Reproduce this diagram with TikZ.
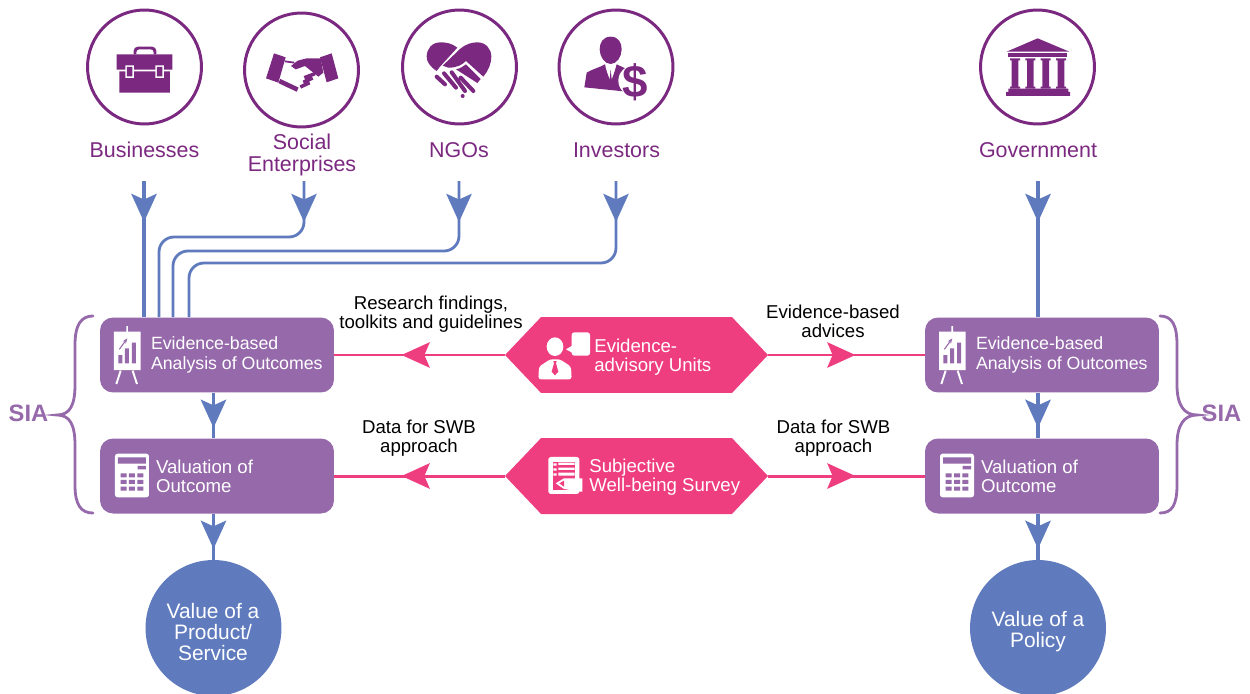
\documentclass[tikz,border=0pt]{standalone}
\usepackage{fontspec}
\setmainfont{Liberation Sans}
\usetikzlibrary{positioning,calc,arrows.meta,shapes.symbols,decorations.markings}

\definecolor{iconpurple}{HTML}{7B2880}
\definecolor{flowblue}{HTML}{5F7BBE}
\definecolor{boxpurple}{HTML}{9569AA}
\definecolor{hexpink}{HTML}{EF3E7F}

\begin{document}
\begin{tikzpicture}[
    x=0.02cm, y=-0.02cm,
    actor/.style={circle, draw=iconpurple, line width=1.7pt, minimum size=2.28cm, inner sep=0pt},
    actorlabel/.style={align=center, text=iconpurple, font=\fontsize{12.2}{12.6}\selectfont},
    stage/.style={rectangle, fill=boxpurple, rounded corners=0.26cm, minimum width=4.68cm, minimum height=1.5cm, inner sep=0pt},
    stagetext/.style={align=left, text=white, inner sep=0pt, font=\fontsize{10.1}{11}\selectfont},
    valuetext/.style={align=left, text=white, inner sep=0pt, font=\fontsize{10.6}{11}\selectfont},
    unit/.style={signal, signal to=west and east, signal pointer angle=93, fill=hexpink, minimum width=5.26cm, minimum height=1.52cm, inner sep=0pt},
    note/.style={align=center, inner sep=0pt, font=\fontsize{10.6}{10.8}\selectfont},
    result/.style={circle, fill=flowblue, minimum size=2.72cm, inner sep=0pt},
    resulttext/.style={align=center, text=white, inner sep=0pt, font=\fontsize{11.9}{12}\selectfont},
    sialabel/.style={text=boxpurple, inner sep=0pt, font=\fontsize{13.5}{14}\selectfont\bfseries},
    brace/.style={draw=boxpurple, line width=1.6pt, line cap=round},
    flow/.style={draw=flowblue, line width=1.9pt},
    lane/.style={draw=flowblue, line width=1.6pt, rounded corners=0.3cm},
    bluehead/.style={postaction={decorate}, decoration={markings, mark=at position #1 with {\arrow{Stealth[length=16pt, width=14.4pt, inset=3.2pt, color=flowblue]}}}},
    link/.style={draw=hexpink, line width=1.7pt},
    pinkhead/.style={postaction={decorate}, decoration={markings, mark=at position #1 with {\arrow{Stealth[length=16pt, width=14.4pt, inset=3pt, color=hexpink]}}}},
    pics/boardicon/.style={code={
        \begin{scope}[x=0.00667cm, y=-0.00667cm]
        \fill[white] (342,95) rectangle (422,210) (379,78) rectangle (384,95);
        \draw[white, line width=1.1pt] (362,212) -- (349,252) (398,212) -- (411,252);
        \fill[boxpurple] (355,165) rectangle (367,190) (375,145) rectangle (387,190) (396,128) rectangle (408,190);
        \draw[boxpurple, line width=0.6pt, -{Stealth[length=3pt]}] (358,148) -- (382,115);
        \end{scope}
    }},
    pics/calcicon/.style={code={
        \begin{scope}[x=0.00667cm, y=-0.00667cm]
        \fill[white, rounded corners=1.5pt] (345,461) rectangle (447,592);
        \fill[boxpurple] (354,472) rectangle (438,491) (413,498) rectangle (438,508);
        \fill[boxpurple] (362,520) rectangle (380,532) (387,520) rectangle (405,532) (412,520) rectangle (430,532);
        \fill[boxpurple] (362,540) rectangle (380,552) (387,540) rectangle (405,552) (412,540) rectangle (430,552);
        \fill[boxpurple] (362,560) rectangle (380,572) (387,560) rectangle (405,572) (412,560) rectangle (430,572);
        \end{scope}
    }}
]
\useasboundingbox (0,0) rectangle (1250,693);

% Actor circles on top
\node[actor] (biz) at (144.5,67) {};
\node[actor] (soc) at (301.5,70) {};
\node[actor] (ngo) at (459.5,67) {};
\node[actor] (inv) at (616,67) {};
\node[actor] (gov) at (1037.5,67) {};

\node[actorlabel] (bizlabel) at (144.5,150) {Businesses};
\node[actorlabel] (soclabel) at (302,155) {Social\\Enterprises};
\node[actorlabel] (ngolabel) at (459,150) {NGOs};
\node[actorlabel] (invlabel) at (616.5,150) {Investors};
\node[actorlabel] (govlabel) at (1038,150) {Government};

% Stage boxes
\node[stage] (analysisL) at (217,355) {};
\node[stage] (valueL) at (217,476) {};
\node[stage] (analysisR) at (1042,355) {};
\node[stage] (valueR) at (1042,476) {};

\node[stagetext, right=1.02cm of analysisL.west] (analysisLtext) {Evidence-based\\Analysis of Outcomes};
\node[valuetext, right=1.12cm of valueL.west] (valueLtext) {Valuation of\\Outcome};
\node[stagetext, right=1.02cm of analysisR.west] (analysisRtext) {Evidence-based\\Analysis of Outcomes};
\node[valuetext, right=1.12cm of valueR.west] (valueRtext) {Valuation of\\Outcome};

% Middle units
\node[unit] (advisory) at (636.5,355) {};
\node[unit] (survey) at (636.5,476) {};
\node[valuetext, anchor=west] (advisorytext) at (594,357.5) {Evidence-\\advisory Units};
\node[valuetext, anchor=west] (surveytext) at (589,477.5) {Subjective\\Well-being Survey};

% Result circles
\node[result] (product) at (213.5,628) {};
\node[result] (policy) at (1038,628) {};
\node[resulttext] (producttext) at (213,632) {Value of a\\Product/\\Service};
\node[resulttext] (policytext) at (1038,632) {Value of a\\Policy};

% Free ends of the arrows coming down
\coordinate (bizout) at (144,181);
\coordinate (socout) at (304,181);
\coordinate (ngoout) at (459,181);
\coordinate (invout) at (616,181);
\coordinate (govout) at (1038,181);
\coordinate (soclane) at (159,237);
\coordinate (ngolane) at (173,251);
\coordinate (invlane) at (189,263);

\draw[flow, bluehead=0.82cm] (bizout) -- (bizout |- analysisL.north);
\draw[lane, bluehead=0.82cm] (socout) |- (soclane) -- (soclane |- analysisL.north);
\draw[lane, bluehead=0.82cm] (ngoout) |- (ngolane) -- (ngolane |- analysisL.north);
\draw[lane, bluehead=0.82cm] (invout) |- (invlane) -- (invlane |- analysisL.north);
\draw[flow, bluehead=0.82cm] (govout) -- (govout |- analysisR.north);

% Down the two columns
\draw[flow, bluehead=0.7cm] (product |- analysisL.south) -- (product |- valueL.north);
\draw[flow, bluehead=0.7cm] (product |- valueL.south) -- (product.north);
\draw[flow, bluehead=0.7cm] (policy |- analysisR.south) -- (policy |- valueR.north);
\draw[flow, bluehead=0.7cm] (policy |- valueR.south) -- (policy.north);

% Pink links
\draw[link, pinkhead=2.06cm] (advisory.west) -- (analysisL.east);
\draw[link, pinkhead=1.74cm] (advisory.east) -- (analysisR.west);
\draw[link, pinkhead=2.06cm] (survey.west) -- (valueL.east);
\draw[link, pinkhead=1.74cm] (survey.east) -- (valueR.west);

\node[note] (findings) at (431,314) {Research findings,\\toolkits and guidelines};
\node[note] (advices) at (833,321) {Evidence-based\\advices};
\node[note] (dataL) at (419,438.5) {Data for SWB\\approach};
\node[note] (dataR) at (833.5,438.5) {Data for SWB\\approach};

% Braces and SIA
\draw[brace] (93,316) .. controls (81,316) and (75,325) .. (75,345) -- (75,385) .. controls (75,405) and (70,415) .. (57,415) .. controls (70,415) and (75,425) .. (75,445) -- (75,485) .. controls (75,505) and (81,513) .. (93,513);
\draw[brace] (1160,316) .. controls (1172,316) and (1177,325) .. (1177,345) -- (1177,385) .. controls (1177,405) and (1184,415) .. (1197,415) .. controls (1184,415) and (1177,425) .. (1177,445) -- (1177,485) .. controls (1177,505) and (1172,513) .. (1160,513);
\node[sialabel] (siaL) at (28.5,413.5) {SIA};
\node[sialabel] (siaR) at (1221.5,413.5) {SIA};

% Icons in the boxes
\pic at (0,300) {boardicon};
\pic at (825,300) {boardicon};
\pic at (0,300) {calcicon};
\pic at (825,300) {calcicon};

% Briefcase
\begin{scope}[shift={(70,0)}, x=0.00667cm, y=-0.00667cm]
\draw[iconpurple, line width=1.7pt, rounded corners=2pt] (195,163) -- (195,144) -- (255,144) -- (255,163);
\fill[iconpurple] (140,163) rectangle (307,209) (148,214) rectangle (300,278);
\fill[white] (166,196) rectangle (192,234) (256,196) rectangle (282,234);
\fill[iconpurple] (171,201) rectangle (187,229) (261,201) rectangle (277,229);
\end{scope}

% Handshake
\begin{scope}[shift={(255,40)}, x=0.00667cm, y=-0.00667cm]
\fill[iconpurple] (57,40) -- (92,52) -- (70,128) -- (33,115) -- cycle;
\fill[iconpurple] (195,52) -- (230,40) -- (250,115) -- (215,127) -- cycle;
\fill[iconpurple] (197,55) -- (155,55) -- (128,62) -- (108,78) -- (122,88) -- (150,78) -- (190,110) -- (205,98) -- cycle;
\draw[iconpurple, line width=1pt] (90,64) -- (118,68);
\draw[iconpurple, line width=2pt] (148,113) -- (180,101) (145,127) -- (173,114) (136,141) -- (164,128);
\draw[iconpurple, line width=2.6pt] (73,123) -- (128,149);
\end{scope}

% Heart of hands
\begin{scope}[shift={(420,35)}, x=0.00667cm, y=-0.00667cm]
\fill[iconpurple] (112,38) .. controls (95,25) and (80,22) .. (62,22) .. controls (35,22) and (20,42) .. (20,65) .. controls (20,80) and (30,95) .. (50,108) -- (60,95) -- cycle;
\fill[iconpurple] (68,92) -- (120,42) .. controls (138,27) and (155,22) .. (172,22) .. controls (198,22) and (214,42) .. (214,65) .. controls (214,85) and (205,108) .. (190,125) -- (138,78) .. controls (125,90) and (112,98) .. (85,98) -- cycle;
\fill[iconpurple] (108,103) .. controls (122,100) and (130,94) .. (138,88) -- (182,132) -- (172,144) -- cycle;
\draw[iconpurple, line width=2.3pt, line cap=round] (50,125) -- (75,148) (72,115) -- (108,158) (95,112) -- (135,168) (122,128) -- (160,168);
\fill[iconpurple] (128,183) circle (6);
\end{scope}

% Investor
\begin{scope}[shift={(575,30)}, x=0.00667cm, y=-0.00667cm]
\fill[iconpurple] (107,20) .. controls (130,20) and (140,38) .. (140,58) .. controls (140,80) and (125,102) .. (107,102) .. controls (89,102) and (74,80) .. (74,58) .. controls (74,38) and (84,20) .. (107,20) -- cycle;
\fill[iconpurple] (28,172) -- (35,128) .. controls (50,118) and (75,112) .. (90,103) -- (104,148) -- (107,118) -- (110,148) -- (125,103) .. controls (135,108) and (145,112) .. (155,117) -- (155,185) -- cycle;
\fill[white] (91,108) -- (100,117) -- (98,122) -- (104,148) -- (96,125) -- cycle (123,108) -- (114,117) -- (116,122) -- (110,148) -- (118,125) -- cycle;
\node[circle, fill=white, inner sep=0pt, minimum size=0.6cm] (dollarback) at (175,152) {};
\node[text=iconpurple, inner sep=0pt, font=\fontsize{26}{26}\selectfont\bfseries] (dollar) at (180,157) {\$};
\end{scope}

% Government building
\begin{scope}[shift={(960,0)}, x=0.00667cm, y=-0.00667cm]
\fill[iconpurple] (140,155) -- (233,115) -- (328,155) -- cycle;
\fill[iconpurple] (143,159) rectangle (322,172);
\fill[iconpurple] (150,175) rectangle (180,181) (155,181) rectangle (175,262) (150,260) rectangle (180,266);
\fill[iconpurple] (196,175) rectangle (226,181) (201,181) rectangle (221,262) (196,260) rectangle (226,266);
\fill[iconpurple] (242,175) rectangle (272,181) (247,181) rectangle (267,262) (242,260) rectangle (272,266);
\fill[iconpurple] (288,175) rectangle (318,181) (293,181) rectangle (313,262) (288,260) rectangle (318,266);
\fill[iconpurple] (145,266) rectangle (325,276) (138,276) rectangle (330,288);
\end{scope}

% Adviser in the pink unit
\begin{scope}[shift={(490,300)}, x=0.00667cm, y=-0.00667cm]
\fill[white] (195,140) ellipse (25 and 28);
\fill[white, rounded corners=1.5pt] (145,238) -- (147,200) -- (180,178) -- (210,178) -- (243,200) -- (245,238) -- cycle;
\fill[hexpink] (190,183) -- (200,183) -- (198,190) -- (205,215) -- (195,226) -- (185,215) -- (192,190) -- cycle;
\fill[white, rounded corners=1.5pt] (245,97) rectangle (300,167);
\fill[white] (228,148) -- (250,135) -- (250,160) -- cycle;
\end{scope}

% Survey sheet in the pink unit
\begin{scope}[shift={(490,300)}, x=0.00667cm, y=-0.00667cm]
\fill[white, rounded corners=1.5pt] (175,471) rectangle (268,582);
\fill[hexpink] (190,486) rectangle (254,570);
\fill[white] (190,490) rectangle (200,497) (190,505) rectangle (200,512) (190,520) rectangle (200,527);
\fill[white] (205,488) rectangle (254,495) (205,503) rectangle (254,510) (205,518) rectangle (254,527);
\fill[white] (197,550) -- (222,535) -- (277,535) -- (277,575) -- (270,575) -- (222,567) -- cycle;
\fill[hexpink] (208,550) -- (222,542) -- (222,560) -- cycle;
\end{scope}

\end{tikzpicture}
\end{document}
